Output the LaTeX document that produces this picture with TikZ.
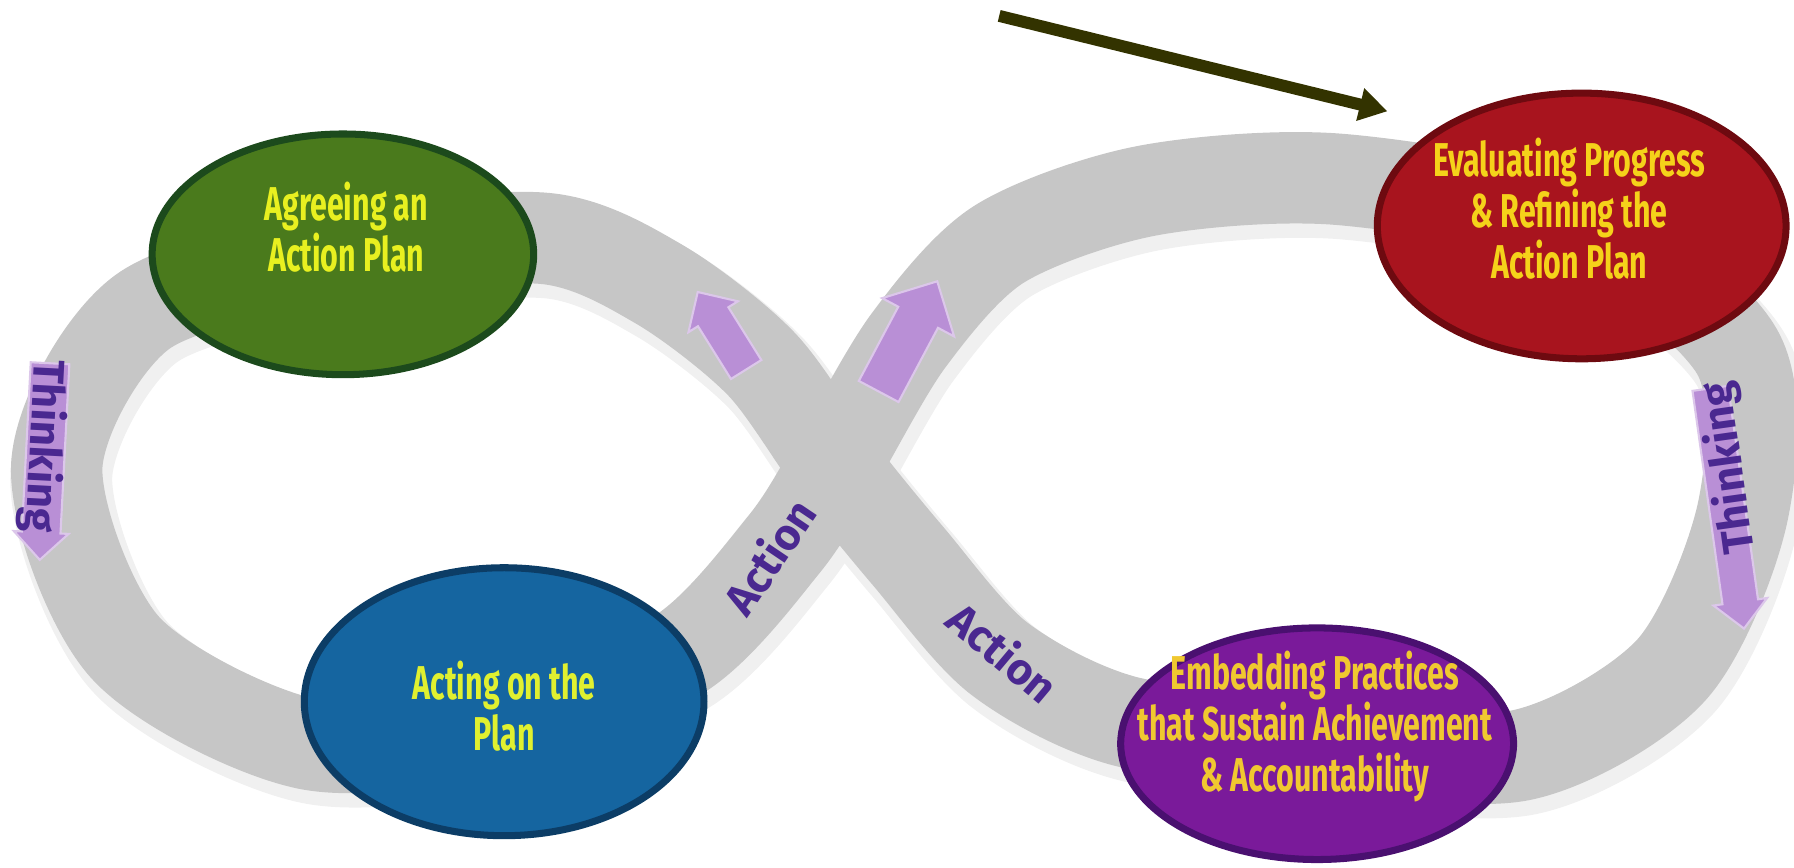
\documentclass[tikz,border=0pt]{standalone}
\usepackage{fontspec}
\usepackage{tikz}
\usetikzlibrary{shapes.geometric,shapes.arrows,arrows.meta}
\newfontfamily\ovalfont[FakeStretch=0.64]{Fira Sans}
\newfontfamily\tagfont{Fira Sans}
\definecolor{bandgray}{HTML}{C6C6C6}
\definecolor{lilac}{HTML}{B98FD6}
\definecolor{tagpurple}{HTML}{4A2890}
\definecolor{olive}{HTML}{333300}
\begin{document}
\begin{tikzpicture}[x=0.323pt,y=-0.323pt,
  oval/.style={ellipse,line width=2pt,inner sep=0pt},
  ovaltext/.style={align=center,inner sep=0pt,font=\ovalfont\bfseries\fontsize{13.5}{14.5}\selectfont},
  tag/.style={text=tagpurple,font=\tagfont\bfseries\fontsize{12.5}{12}\selectfont},
  flow/.style={single arrow,fill=lilac,draw=lilac!50!white,line width=0.6pt}]
\useasboundingbox (0,0) rectangle (1580,763.6);
\def\bandpath{plot[smooth cycle] coordinates{(302,224) (125,275) (50,410) (110,570) (270,655) (444,640)
  (600,575) (690,480) (735,410) (800,300) (880,215) (1010,168) (1180,158) (1393,200)
  (1530,310) (1535,450) (1472,590) (1340,665) (1160,655) (990,635) (880,580) (800,490)
  (735,410) (670,320) (580,250) (480,210)}}
\draw[line width=29pt,gray!12,shift={(4,8)}] \bandpath;
\draw[line width=26pt,bandgray] \bandpath;
\node[flow,rotate=-93,minimum height=56pt,inner sep=5.2pt,single arrow head extend=2.3pt](thinkL)at(40,398){};
\node[tag,rotate=-93](thinkLtext)at(38,393){Thinking};
\node[flow,rotate=98,shape border rotate=180,minimum height=69pt,inner sep=4.8pt,single arrow head extend=2.6pt](thinkR)at(1520,440){};
\node[tag,rotate=98](thinkRtext)at(1523,412){Thinking};
\node[flow,rotate=62,minimum height=35.5pt,inner sep=6.1pt,single arrow head extend=5.2pt](up)at(795,305){};
\node[flow,rotate=122,minimum height=26pt,inner sep=4.8pt,single arrow head extend=3.2pt](back)at(640,298){};
\node[tag,rotate=56](act1)at(677,490){Action};
\node[tag,rotate=-40](act2)at(884,574){Action};
\node[oval,fill={rgb,255:red,74;green,122;blue,28},draw={rgb,255:red,28;green,74;blue,28},
  minimum width=336*0.323pt,minimum height=212*0.323pt](agree)at(302,224){};
\node[ovaltext,text={rgb,255:red,232;green,240;blue,32}](agreetext)at(305,200){Agreeing an\\Action Plan};
\node[oval,fill={rgb,255:red,21;green,101;blue,160},draw={rgb,255:red,12;green,61;blue,102},
  minimum width=352*0.323pt,minimum height=236*0.323pt](act)at(444,618){};
\node[ovaltext,text={rgb,255:red,224;green,240;blue,48}](acttext)at(444,622){Acting on the\\Plan};
\node[oval,fill={rgb,255:red,168;green,20;blue,30},draw={rgb,255:red,110;green,10;blue,16},
  minimum width=360*0.323pt,minimum height=234*0.323pt](eval)at(1393,199){};
\node[ovaltext,text={rgb,255:red,245;green,210;blue,26}](evaltext)at(1382,184){Evaluating Progress\\\& Refining the\\Action Plan};
\node[oval,fill={rgb,255:red,122;green,26;blue,154},draw={rgb,255:red,74;green,16;blue,112},
  minimum width=346*0.323pt,minimum height=204*0.323pt](embed)at(1160,655){};
\node[ovaltext,text={rgb,255:red,240;green,200;blue,48}](embedtext)at(1158,640){Embedding Practices\\that Sustain Achievement\\\& Accountability};
\coordinate(tail)at(880,14);
\coordinate(tip)at(1222,98);
\draw[olive,line width=3.4pt,-{Triangle[length=8pt,width=9pt]}](tail)--(tip);
\end{tikzpicture}
\end{document}
